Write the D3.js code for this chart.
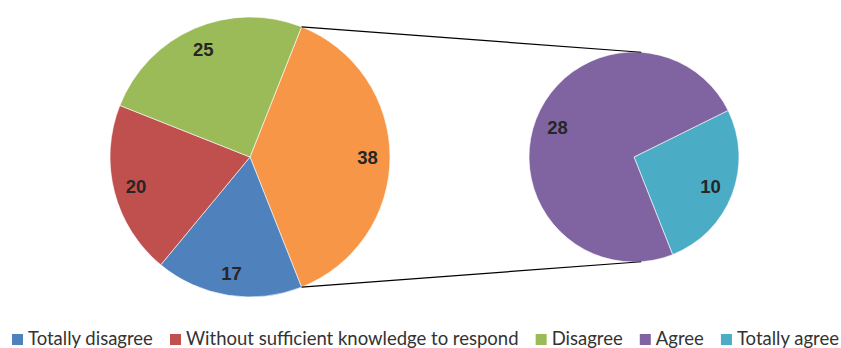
<!DOCTYPE html>
<meta charset="utf-8">
<style>
body { margin: 0; background: #fff; }
.lbl { font: bold 18.5px "Liberation Sans", Arial, sans-serif; fill: #262626; }
.legend text { font: 18.5px Lato, sans-serif; fill: #333; }
</style>
<body>
<div id="chart"></div>
<script src="https://d3js.org/d3.v7.min.js"></script>
<script>
// main pie (the "other" slice is the sum of the secondary pie)
var mainNames = ["Totally disagree", "Without sufficient knowledge to respond", "Disagree"];
var mainValues = [17, 20, 25];
var mainColors = ["#4F81BD", "#C0504D", "#9BBB59"];
var otherColor = "#F79646";

// secondary pie
var subNames = ["Totally agree", "Agree"];
var subValues = [10, 28];
var subColors = ["#4BACC6", "#8064A2"];

// legend order
var legendNames = ["Totally disagree", "Without sufficient knowledge to respond", "Disagree", "Agree", "Totally agree"];
var legendColors = ["#4F81BD", "#C0504D", "#9BBB59", "#8064A2", "#4BACC6"];

var width = 841, height = 348;
var svg = d3.select("#chart").append("svg")
    .attr("width", width)
    .attr("height", height);

var deg = Math.PI / 180;
var c1 = {x: 250, y: 157, r: 140};
var c2 = {x: 634, y: 157, r: 105};

var otherValue = d3.sum(subValues);
var total = otherValue + d3.sum(mainValues);
var otherSpan = otherValue / total * 2 * Math.PI;
var start1 = Math.PI / 2 - otherSpan / 2;

var mainData = [{v: otherValue, color: otherColor}].concat(
  mainValues.map(function(v, i) { return {v: v, color: mainColors[i]}; }));

var pie1 = d3.pie().sort(null).value(function(d) { return d.v; })
    .startAngle(start1).endAngle(start1 + 2 * Math.PI);
var arcs1 = pie1(mainData);

var arc1 = d3.arc().innerRadius(0).outerRadius(c1.r);
var lblArc1 = d3.arc().innerRadius(c1.r * 0.84).outerRadius(c1.r * 0.84);

var g1 = svg.append("g").attr("transform", "translate(" + c1.x + "," + c1.y + ")");
g1.selectAll("path").data(arcs1).enter().append("path")
    .attr("d", arc1)
    .attr("fill", function(d) { return d.data.color; })
    .attr("stroke", "#fff")
    .attr("stroke-width", 0.6);
g1.selectAll("text").data(arcs1).enter().append("text")
    .attr("class", "lbl")
    .attr("transform", function(d) { return "translate(" + lblArc1.centroid(d) + ")"; })
    .attr("text-anchor", "middle")
    .attr("dy", "0.36em")
    .text(function(d) { return d.data.v; });

// secondary pie: first slice ends where the "other" slice ends
var subTotal = d3.sum(subValues);
var otherEnd = arcs1[0].endAngle;
var start2 = otherEnd - subValues[0] / subTotal * 2 * Math.PI;
var subData = subValues.map(function(v, i) { return {v: v, color: subColors[i]}; });
var pie2 = d3.pie().sort(null).value(function(d) { return d.v; })
    .startAngle(start2).endAngle(start2 + 2 * Math.PI);
var arcs2 = pie2(subData);

var arc2 = d3.arc().innerRadius(0).outerRadius(c2.r);
var lblArc2 = d3.arc().innerRadius(c2.r * 0.78).outerRadius(c2.r * 0.78);

var g2 = svg.append("g").attr("transform", "translate(" + c2.x + "," + c2.y + ")");
g2.selectAll("path").data(arcs2).enter().append("path")
    .attr("d", arc2)
    .attr("fill", function(d) { return d.data.color; })
    .attr("stroke", "#fff")
    .attr("stroke-width", 0.6);
g2.selectAll("text").data(arcs2).enter().append("text")
    .attr("class", "lbl")
    .attr("transform", function(d) { return "translate(" + lblArc2.centroid(d) + ")"; })
    .attr("text-anchor", "middle")
    .attr("dy", "0.36em")
    .text(function(d) { return d.data.v; });

// connector lines
function pt(c, a, r) { return [c.x + r * Math.sin(a), c.y - r * Math.cos(a)]; }
var conn = [
  [pt(c1, arcs1[0].startAngle, c1.r), pt(c2, 4 * deg, c2.r)],
  [pt(c1, arcs1[0].endAngle, c1.r), pt(c2, 176 * deg, c2.r)]
];
svg.selectAll("line.conn").data(conn).enter().append("line")
    .attr("class", "conn")
    .attr("x1", function(d) { return d[0][0]; })
    .attr("y1", function(d) { return d[0][1]; })
    .attr("x2", function(d) { return d[1][0]; })
    .attr("y2", function(d) { return d[1][1]; })
    .attr("stroke", "#000")
    .attr("stroke-width", 1.2);

// legend, spread between left and right edge
var legend = svg.append("g").attr("class", "legend");
var items = legend.selectAll("g").data(legendNames).enter().append("g");
items.append("rect")
    .attr("width", 11).attr("height", 11)
    .attr("y", 334)
    .attr("fill", function(d, i) { return legendColors[i]; });
items.append("text")
    .attr("y", 345)
    .text(function(d) { return d; });

var widths = [];
items.select("text").each(function() { widths.push(this.getComputedTextLength()); });
var sq = 11, pad = 5, left = 12, right = 839;
var used = d3.sum(widths) + legendNames.length * (sq + pad);
var gap = (right - left - used) / (legendNames.length - 1);
var x = left;
items.each(function(d, i) {
  var it = d3.select(this);
  it.select("rect").attr("x", x);
  it.select("text").attr("x", x + sq + pad);
  x += sq + pad + widths[i] + gap;
});
</script>
</body>
